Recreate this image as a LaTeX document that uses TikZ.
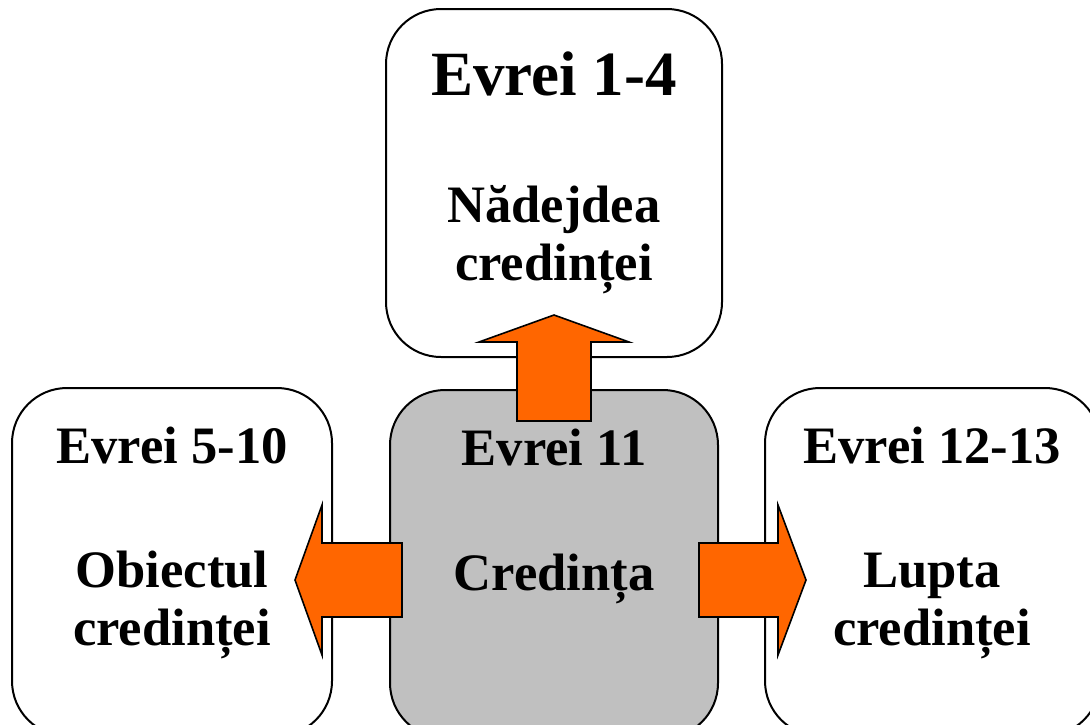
\documentclass[tikz,border=0pt]{standalone}
\usepackage{fontspec}
\setmainfont{Liberation Serif}
\definecolor{arrorange}{HTML}{FF6600}
\definecolor{boxgray}{HTML}{C0C0C0}
\tikzset{
  chapbox/.style={draw, line width=1pt, rounded corners=27.5pt, inner sep=0pt},
  blockarr/.style={draw, fill=arrorange, line width=.8pt, line join=miter},
  bigttl/.style={font=\bfseries\fontsize{31.5}{35}\selectfont, anchor=base},
  ttl/.style={font=\bfseries\fontsize{26.3}{29}\selectfont, anchor=base, align=center}
}
\begin{document}
\begin{tikzpicture}[x=.5pt, y=-.5pt]
\useasboundingbox (0,0) rectangle (1090,724);
\clip (0,0) rectangle (1090,724);
% the four chapters
\node[chapbox, minimum width=168pt, minimum height=174pt] (hope) at (554,183) {};
\node[chapbox, minimum width=160pt, minimum height=174pt] (object) at (172,562) {};
\node[chapbox, fill=boxgray, minimum width=164pt, minimum height=174pt] (faith) at (554,564) {};
\node[chapbox, minimum width=167.5pt, minimum height=174pt] (fight) at (932.5,562) {};
% block arrows out of the middle box
\draw[blockarr] (517,421) -- (517,342) -- (479,342) -- (554,315) -- (629,342) -- (591,342) -- (591,421) -- cycle;
\draw[blockarr] (402,543) -- (322,543) -- (322,505) -- (295,580) -- (322,655) -- (322,617) -- (402,617) -- cycle;
\draw[blockarr] (699,543) -- (778,543) -- (778,505) -- (806,580) -- (778,655) -- (778,617) -- (699,617) -- cycle;
% texts (base of a two-line node is its last line)
\node[bigttl] (hopeT) at (554,95) {Evrei 1-4};
\node[ttl] (hopeB) at (554,280) {Nădejdea\\credinței};
\node[ttl] (objectT) at (172,463) {Evrei 5-10};
\node[ttl] (objectB) at (172,645) {Obiectul\\credinței};
\node[ttl] (faithT) at (554,465) {Evrei 11};
\node[ttl] (faithB) at (554,590) {Credința};
\node[ttl] (fightT) at (932,463) {Evrei 12-13};
\node[ttl] (fightB) at (932,645) {Lupta\\credinței};
\end{tikzpicture}
\end{document}
